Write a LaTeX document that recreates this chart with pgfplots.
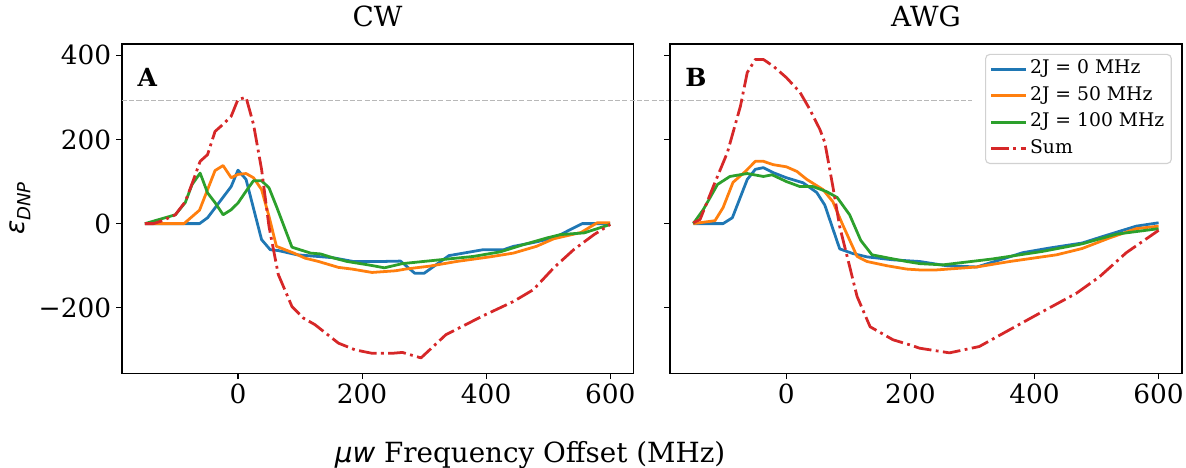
\documentclass[border=0pt]{standalone}
\usepackage{fontspec}
\setmainfont{DejaVu Serif}
\newfontfamily\dvsans{DejaVu Sans}
\usepackage{pgfplots}
\pgfplotsset{compat=1.18}

\definecolor{tabblue}{HTML}{1F77B4}
\definecolor{taborange}{HTML}{FF7F0E}
\definecolor{tabgreen}{HTML}{2CA02C}
\definecolor{tabred}{HTML}{D62728}

\pgfplotsset{
  panel/.style={
    scale only axis, width=368.5pt, height=237.3pt,
    xmin=-187.5, xmax=637.5, ymin=-356, ymax=427,
    xtick={0,200,400,600}, xticklabels={0,200,400,600},
    ytick={-200,0,200,400},
    tick pos=left, tick align=outside, major tick length=4pt,
    every tick/.style={black, line width=0.8pt},
    axis line style={line width=1.2pt},
    tick label style={font=\fontsize{19}{22}\selectfont},
    title style={font=\fontsize{20}{24}\selectfont, at={(0.5,1)}, anchor=base, yshift=6.5pt},
  },
  ser/.style={#1, line width=2pt, line join=round, no markers},
  sumser/.style={tabred, line width=2pt, line join=round, no markers,
    dash pattern=on 12.8pt off 3.2pt on 2pt off 3.2pt},
}

\begin{document}
\begin{tikzpicture}[x=1pt,y=1pt]
\path[use as bounding box] (-87.6,-68.0) rectangle (766.3,268.9);

\begin{axis}[panel, at={(0pt,0pt)}, anchor=south west, title={CW},
  yticklabels={−200,0,200,400}, clip=false,
  ylabel={{\dvsans\itshape ε\raisebox{-4.5pt}{\fontsize{13}{14}\selectfont DNP}}},
  ylabel style={at={(rel axis cs:-0.1987,0.5)}, anchor=center, font=\fontsize{19}{22}\selectfont},
  xlabel={{\dvsans\itshape μw} Frequency Offset (MHz)},
  xlabel style={at={(rel axis cs:0.798,-0.2686)}, anchor=base, font=\fontsize{20}{24}\selectfont},
]
\addplot[color=black!28, line width=1pt, dash pattern=on 3.7pt off 1.6pt] coordinates {(-187.5,292) (1183.7,292)};
\addplot[ser=tabblue] coordinates {
(-150,0) (-62,0) (-49,14) (-11,88) (0,127) (13,105) (38,-38) (52,-62) (65,-64) (95,-74) (153,-81) (186,-90) (229,-90) (262,-89) (285,-118) (300,-118) (340,-76) (395,-62) (428,-62) (444,-54) (476,-45) (509,-34) (555,0) (600,0)};
\addplot[ser=taborange] coordinates {
(-150,0) (-87,0) (-62,32) (-37,126) (-24,138) (-11,109) (0,117) (13,119) (25,109) (38,81) (50,17) (62,-54) (90,-70) (108,-82) (130,-90) (162,-104) (184,-108) (216,-116) (254,-112) (270,-108) (309,-101) (352,-90) (406,-79) (444,-70) (481,-54) (509,-36) (553,-21) (579,2) (600,2)};
\addplot[ser=tabgreen] coordinates {
(-150,0) (-101,21) (-85,50) (-74,93) (-61,120) (-49,73) (-37,50) (-24,21) (-11,33) (0,49) (13,77) (25,102) (38,102) (50,85) (63,37) (87,-56) (117,-70) (133,-72) (155,-82) (176,-90) (214,-99) (236,-105) (265,-95) (325,-86) (379,-78) (423,-67) (460,-50) (498,-34) (520,-26) (558,-22) (600,-2)};
\addplot[sumser] coordinates {
(-150,0) (-136,0) (-120,8) (-101,21) (-85,52) (-74,95) (-61,148) (-49,164) (-37,219) (-24,236) (-11,255) (0,295) (13,300) (25,236) (38,129) (50,-7) (65,-121) (87,-197) (105,-224) (124,-240) (162,-284) (189,-300) (216,-308) (249,-308) (265,-306) (295,-319) (335,-264) (395,-219) (444,-185) (476,-157) (509,-105) (541,-62) (574,-26) (600,-2)};
\node[anchor=base west, inner sep=0pt, font=\fontsize{18}{21}\selectfont\bfseries] at (rel axis cs:0.0304,0.8706) {A};
\end{axis}

\begin{axis}[panel, at={(394.8pt,0pt)}, anchor=south west, title={AWG},
  yticklabels={},
  legend style={at={(1,1)}, anchor=north east, xshift=-7.2pt, yshift=-7.2pt,
    draw=black!18, rounded corners=3pt, line width=0.8pt, inner xsep=3pt, inner ysep=2.5pt,
    font=\fontsize{13.5}{16}\selectfont, row sep=2.5pt,
    nodes={inner sep=2pt, text height=9.5pt, text depth=3pt}},
  legend cell align=left,
  legend image code/.code={\draw[#1] (0pt,0pt) -- (25pt,0pt);},
]
\addplot[ser=tabblue] coordinates {
(-150,0) (-102,0) (-87,14) (-63,105) (-50,129) (-37,133) (-21,121) (0,109) (27,97) (49,74) (62,44) (86,-60) (107,-71) (130,-79) (172,-86) (215,-90) (258,-100) (307,-103) (349,-84) (381,-69) (424,-58) (477,-46) (509,-31) (564,-6) (600,2)};
\addlegendentry{2J = 0 MHz}
\addplot[ser=taborange] coordinates {
(-150,0) (-115,7) (-102,38) (-86,98) (-66,124) (-50,148) (-37,148) (-21,140) (0,135) (17,124) (33,105) (59,81) (75,52) (90,0) (114,-78) (130,-90) (162,-100) (194,-108) (215,-110) (242,-110) (307,-103) (360,-90) (436,-74) (477,-59) (521,-34) (564,-12) (600,-6)};
\addlegendentry{2J = 50 MHz}
\addplot[ser=tabgreen] coordinates {
(-150,0) (-134,33) (-111,93) (-91,112) (-63,119) (-37,112) (-23,116) (0,100) (22,88) (43,88) (65,76) (82,62) (102,21) (120,-40) (138,-74) (162,-81) (194,-90) (215,-95) (252,-98) (332,-84) (413,-66) (477,-48) (532,-25) (600,-12)};
\addlegendentry{2J = 100 MHz}
\addplot[sumser] coordinates {
(-150,2) (-139,10) (-115,98) (-95,169) (-74,279) (-63,359) (-50,390) (-37,390) (-21,374) (0,347) (22,312) (38,271) (54,224) (62,193) (75,88) (86,-7) (98,-78) (114,-173) (135,-245) (172,-276) (199,-288) (215,-296) (263,-307) (311,-292) (360,-252) (413,-209) (468,-165) (505,-126) (548,-69) (600,-16)};
\addlegendentry{Sum}
\node[anchor=base west, inner sep=0pt, font=\fontsize{18}{21}\selectfont\bfseries] at (rel axis cs:0.0293,0.8706) {B};
\end{axis}
\end{tikzpicture}
\end{document}
